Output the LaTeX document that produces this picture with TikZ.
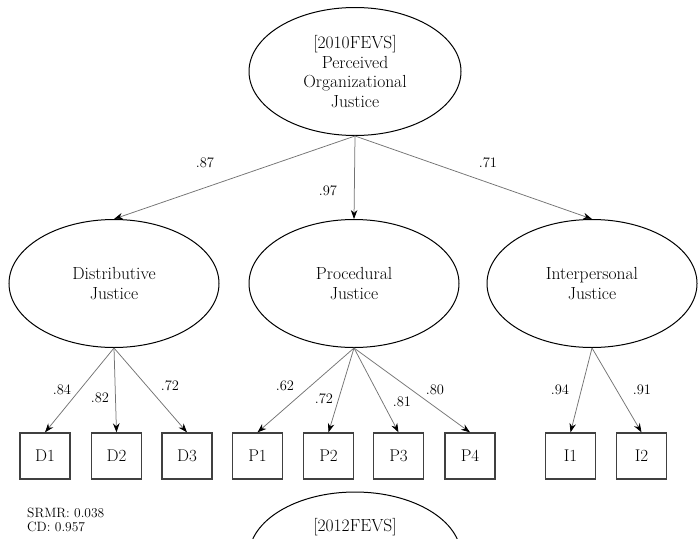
\documentclass[tikz,border=0pt]{standalone}
\usepackage{fontspec}
\usetikzlibrary{arrows.meta,shapes.geometric}

\begin{document}
\begin{tikzpicture}[x=1pt,y=-1pt]
    \tikzstyle{factor}=[ellipse,draw=black,line width=1pt,minimum width=212pt,minimum height=128pt,inner sep=0pt,align=center,font=\fontsize{17.5}{19.8}\selectfont]
    \tikzstyle{item}=[rectangle,draw=black!75,line width=1.3pt,minimum width=50pt,minimum height=46pt,font=\fontsize{17}{19}\selectfont]
    \tikzstyle{load}=[font=\fontsize{14.5}{16}\selectfont,inner sep=0pt]
    \tikzstyle{loadline}=[draw=black!55,line width=0.75pt,-{Stealth[length=9pt,width=6.5pt,black]}]
    \useasboundingbox (0,0) rectangle (698,538);
    \clip (0,0) rectangle (698,538);

    \node[factor] (POJ) at (355,71.5) {[2010FEVS]\\Perceived\\Organizational\\Justice};
    \foreach \name/\x/\txt in {DJ/114/Distributive, PJ/354/Procedural, IJ/592/Interpersonal}
        \node[factor,minimum width=210pt] (\name) at (\x,283.5) {\txt\\Justice};

    \foreach \num/\x in {D1/45, D2/116.5, D3/187, P1/257.5, P2/328.5, P3/398.5, P4/470, I1/570.5, I2/641.5}
        \node[item] (\num) at (\x,456) {\num};

    \foreach \from/\to/\val/\lx/\ly in {POJ/DJ/.87/205/163, POJ/PJ/.97/328/191, POJ/IJ/.71/488/163,
            DJ/D1/.84/62/390, DJ/D2/.82/100/398, DJ/D3/.72/170/386,
            PJ/P1/.62/285/386, PJ/P2/.72/324/399, PJ/P3/.81/402/402, PJ/P4/.80/435/390,
            IJ/I1/.94/560/390, IJ/I2/.91/642/390}
    {
        \draw[loadline] (\from.south) -- (\to.north);
        \node[load] (w-\to) at (\lx,\ly) {\val};
    }

    \node[anchor=west,align=left,inner sep=0pt,font=\fontsize{13.5}{14.5}\selectfont] (fit) at (27,520) {SRMR: 0.038\\CD: 0.957};

    % next wave, cut off at the bottom
    \node[factor] (POJ2) at (355,556) {};
    \node[font=\fontsize{17.5}{19.8}\selectfont,inner sep=0pt] (POJ2-lbl) at (355,527) {[2012FEVS]};
\end{tikzpicture}
\end{document}
